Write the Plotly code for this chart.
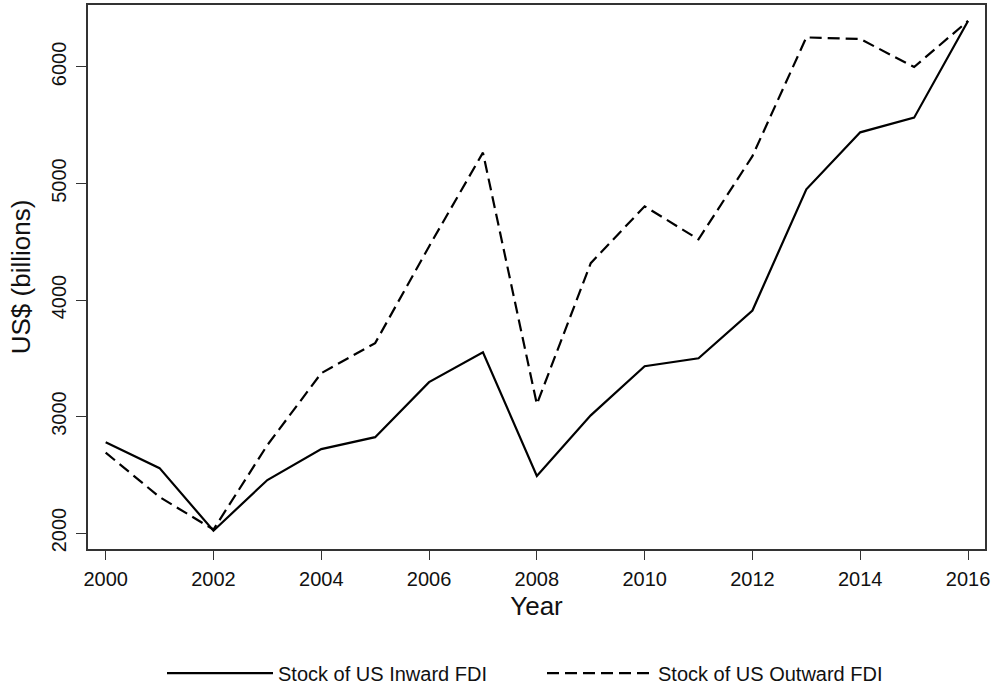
import plotly.graph_objects as go

years = list(range(2000, 2017))
inward = [2780, 2557, 2020, 2455, 2720, 2823, 3295, 3552, 2489, 3010, 3432, 3500, 3910, 4950, 5439, 5565, 6395]
outward = [2690, 2309, 2030, 2755, 3372, 3630, 4460, 5265, 3106, 4316, 4804, 4521, 5235, 6254, 6240, 6000, 6395]
x_ticks = list(range(2000, 2017, 2))
y_ticks = [2000, 3000, 4000, 5000, 6000]

font = "Liberation Sans, Arial, sans-serif"

fig = go.Figure()
fig.add_trace(go.Scatter(x=years, y=inward, mode="lines", name="Stock of US Inward FDI",
                         line=dict(color="black", width=2.2)))
fig.add_trace(go.Scatter(x=years, y=outward, mode="lines", name="Stock of US Outward FDI",
                         line=dict(color="black", width=2.2, dash="12px,6px")))

fig.update_layout(
    width=995, height=687,
    margin=dict(l=88, r=10, t=5, b=138, autoexpand=False),
    paper_bgcolor="white", plot_bgcolor="white",
    font=dict(family=font, color="#111", size=20),
    showlegend=True,
    legend=dict(orientation="h", x=0.0825, xanchor="left", y=-0.228, yanchor="middle",
                itemwidth=106, entrywidth=259, entrywidthmode="pixels",
                font=dict(size=20), traceorder="normal", bgcolor="rgba(0,0,0,0)"),
    xaxis=dict(range=[1999.672, 2016.315], tickvals=x_ticks, showgrid=False, zeroline=False,
               showline=True, mirror=True, linecolor="#333", linewidth=1.5,
               ticks="outside", ticklen=9, tickwidth=1.2, tickcolor="#333",
               ticklabelstandoff=2, automargin=False,
               title=dict(text="Year", font=dict(size=26), standoff=8)),
    yaxis=dict(range=[1863, 6532], tickvals=y_ticks, showgrid=False, zeroline=False,
               showline=True, mirror=True, linecolor="#333", linewidth=1.5,
               ticks="outside", ticklen=10, tickwidth=1.2, tickcolor="#333",
               tickangle=-90, ticklabelstandoff=2, automargin=False,
               title=dict(text="US$ (billions)", font=dict(size=26), standoff=10)),
)

fig.write_html("out.html", config={"displayModeBar": False},
               post_script="document.body.style.margin='0';")
